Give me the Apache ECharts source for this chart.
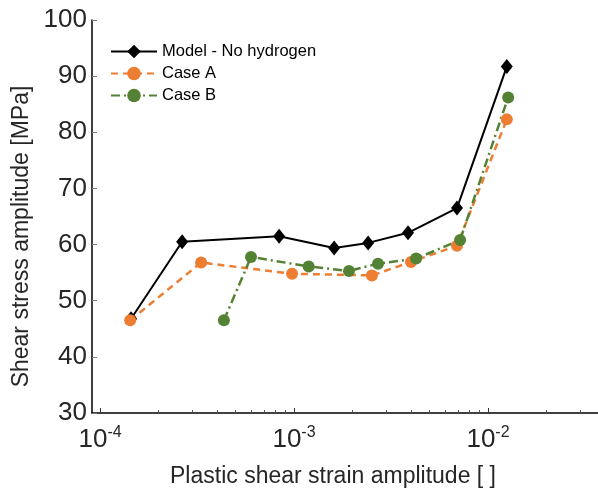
<!DOCTYPE html>
<html>
<head>
    <meta charset="utf-8">
    <title>Shear stress vs plastic shear strain</title>
    <style>
    html, body, #main {
      padding: 0;
      margin: 0;
      height: 100%;
      width: 100%;
      background: #fff;
    }
    </style>
    <script src="https://cdn.jsdelivr.net/npm/echarts@6/dist/echarts.min.js"></script>
</head>
<body>
    <div id="main"></div>
    <script>
    // values
    var modelStrain = [1.445e-4, 2.65e-4, 8.38e-4, 1.61e-3, 2.41e-3, 3.87e-3, 6.92e-3, 1.25e-2];
    var modelStress = [46.8, 60.5, 61.5, 59.4, 60.3, 62.1, 66.5, 91.7];
    var caseAStrain = [1.43e-4, 3.32e-4, 9.77e-4, 2.52e-3, 4.01e-3, 6.92e-3, 1.25e-2];
    var caseAStress = [46.5, 56.8, 54.8, 54.5, 56.9, 59.8, 82.3];
    var caseBStrain = [4.35e-4, 6.0e-4, 1.19e-3, 1.92e-3, 2.71e-3, 4.26e-3, 7.18e-3, 1.27e-2];
    var caseBStress = [46.5, 57.8, 56.1, 55.3, 56.6, 57.5, 60.8, 86.2];
    var majorTicks = [1e-4, 1e-3, 1e-2];
    var minorTicks = [2e-4, 3e-4, 4e-4, 5e-4, 6e-4, 7e-4, 8e-4, 9e-4,
                      2e-3, 3e-3, 4e-3, 5e-3, 6e-3, 7e-3, 8e-3, 9e-3,
                      2e-2, 3e-2];

    function pairs(xs, ys) {
        var out = [];
        for (var i = 0; i < xs.length; i++) {
            out.push([xs[i], ys[i]]);
        }
        return out;
    }

    var xMin = 9.09e-5;
    var xMax = 3.69e-2;
    var font = 'Liberation Sans, Arial, sans-serif';

    var chart = echarts.init(document.getElementById('main'));
    var option = {
        backgroundColor: '#fff',
        animation: false,
        textStyle: { fontFamily: font },
        grid: {
            left: 92,
            right: 0,
            top: 20,
            bottom: 78
        },
        legend: {
            orient: 'vertical',
            left: 110,
            top: 43,
            itemWidth: 46,
            itemHeight: 17,
            itemGap: 5,
            padding: 0,
            textStyle: { fontSize: 16.5, color: '#000', fontFamily: font, lineHeight: 17 },
            data: ['Model - No hydrogen', 'Case A', 'Case B']
        },
        xAxis: [
            {
                type: 'log',
                min: xMin,
                max: xMax,
                name: 'Plastic shear strain amplitude [ ]',
                nameLocation: 'middle',
                nameGap: 52,
                nameTextStyle: { fontSize: 23, color: '#262626', padding: [0, 24, 0, 0] },
                axisLine: { show: true, lineStyle: { color: '#000', width: 1.5 } },
                axisTick: { show: true, inside: true, length: 5, customValues: majorTicks,
                    lineStyle: { color: '#333', width: 1 } },
                axisLabel: {
                    customValues: majorTicks,
                    margin: 12,
                    formatter: function (v) {
                        return '{b|10}{s|' + Math.round(Math.log10(v)) + '}';
                    },
                    rich: {
                        b: { fontSize: 26, color: '#262626', fontFamily: font },
                        s: { fontSize: 16, color: '#262626', fontFamily: font, padding: [0, 0, 14, 0] }
                    }
                },
                splitLine: { show: false },
                minorTick: { show: false }
            },
            {
                type: 'log',
                min: xMin,
                max: xMax,
                position: 'bottom',
                axisLine: { show: false },
                axisTick: { show: true, inside: true, length: 3, customValues: minorTicks,
                    lineStyle: { color: '#555', width: 1 } },
                axisLabel: { show: false },
                splitLine: { show: false }
            }
        ],
        yAxis: {
            type: 'value',
            min: 30,
            max: 100,
            interval: 10,
            name: 'Shear stress amplitude [MPa]',
            nameLocation: 'middle',
            nameGap: 58,
            nameTextStyle: { fontSize: 23, color: '#262626', padding: [0, 40, 0, 0] },
            axisLine: { show: true, lineStyle: { color: '#000', width: 1.5 } },
            axisTick: { show: true, inside: true, length: 5, lineStyle: { color: '#808080' } },
            axisLabel: { fontSize: 26, color: '#262626', margin: 5 },
            splitLine: { show: false }
        },
        series: [
            {
                name: 'Model - No hydrogen',
                type: 'line',
                data: pairs(modelStrain, modelStress),
                symbol: 'diamond',
                symbolSize: [12, 15],
                itemStyle: { color: '#000' },
                lineStyle: { color: '#000', width: 2 }
            },
            {
                name: 'Case A',
                type: 'line',
                data: pairs(caseAStrain, caseAStress),
                symbol: 'circle',
                symbolSize: 12,
                itemStyle: { color: '#ED7D31' },
                lineStyle: { color: '#ED7D31', width: 2.5, type: [7, 5] }
            },
            {
                name: 'Case B',
                type: 'line',
                data: pairs(caseBStrain, caseBStress),
                symbol: 'circle',
                symbolSize: 12,
                itemStyle: { color: '#548235' },
                lineStyle: { color: '#548235', width: 2.5, type: [9, 4, 2, 4] }
            }
        ]
    };
    chart.setOption(option);
    window.onresize = function () {
        chart.resize();
    };
    </script>
</body>
</html>
